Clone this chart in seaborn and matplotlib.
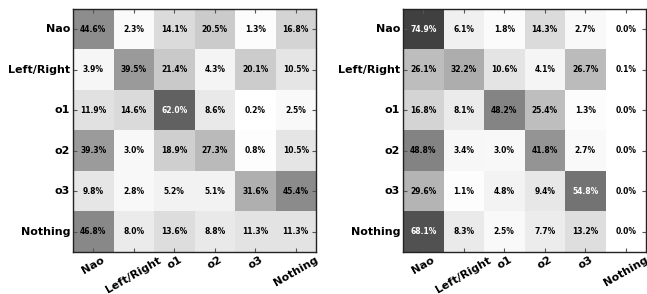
import numpy as np
import pandas as pd
import matplotlib
matplotlib.use("Agg")
import matplotlib.pyplot as plt
import seaborn as sns

labels = ["Nao", "Left/Right", "o1", "o2", "o3", "Nothing"]

# confusion matrices, row-wise percentages
left_vals = [
    [44.6, 2.3, 14.1, 20.5, 1.3, 16.8],
    [3.9, 39.5, 21.4, 4.3, 20.1, 10.5],
    [11.9, 14.6, 62.0, 8.6, 0.2, 2.5],
    [39.3, 3.0, 18.9, 27.3, 0.8, 10.5],
    [9.8, 2.8, 5.2, 5.1, 31.6, 45.4],
    [46.8, 8.0, 13.6, 8.8, 11.3, 11.3],
]
right_vals = [
    [74.9, 6.1, 1.8, 14.3, 2.7, 0.0],
    [26.1, 32.2, 10.6, 4.1, 26.7, 0.1],
    [16.8, 8.1, 48.2, 25.4, 1.3, 0.0],
    [48.8, 3.4, 3.0, 41.8, 2.7, 0.0],
    [29.6, 1.1, 4.8, 9.4, 54.8, 0.0],
    [68.1, 8.3, 2.5, 7.7, 13.2, 0.0],
]


def draw_matrix(ax, vals):
    df = pd.DataFrame(np.array(vals) / 100.0, index=labels, columns=labels)
    sns.heatmap(df, ax=ax, cmap="gray_r", vmin=0, vmax=1, cbar=False,
                annot=True, fmt=".1%", square=True,
                annot_kws={"fontsize": 5.5, "fontweight": "bold"})
    # white text on dark cells
    flat = df.values.ravel()
    for txt, v in zip(ax.texts, flat):
        txt.set_color("white" if v > 0.5 else "black")
    for s in ax.spines.values():
        s.set_visible(True)
        s.set_color("#222222")
        s.set_linewidth(1.0)
    ax.tick_params(direction="in", top=True, right=True, length=3,
                   color="#555555", pad=2)
    ax.set_yticklabels(labels, rotation=0, fontsize=8, fontweight="bold")
    ax.set_xticklabels(labels, rotation=30, ha="center", fontsize=8,
                       fontweight="bold")
    ax.set_xlabel("")
    ax.set_ylabel("")


fig = plt.figure(figsize=(6.47, 2.94), dpi=100)
ax1 = fig.add_axes([73 / 647, 42 / 294, 243 / 647, 243 / 294])
ax2 = fig.add_axes([403 / 647, 42 / 294, 243 / 647, 243 / 294])
draw_matrix(ax1, left_vals)
draw_matrix(ax2, right_vals)

fig.savefig("out.png", dpi=100)
